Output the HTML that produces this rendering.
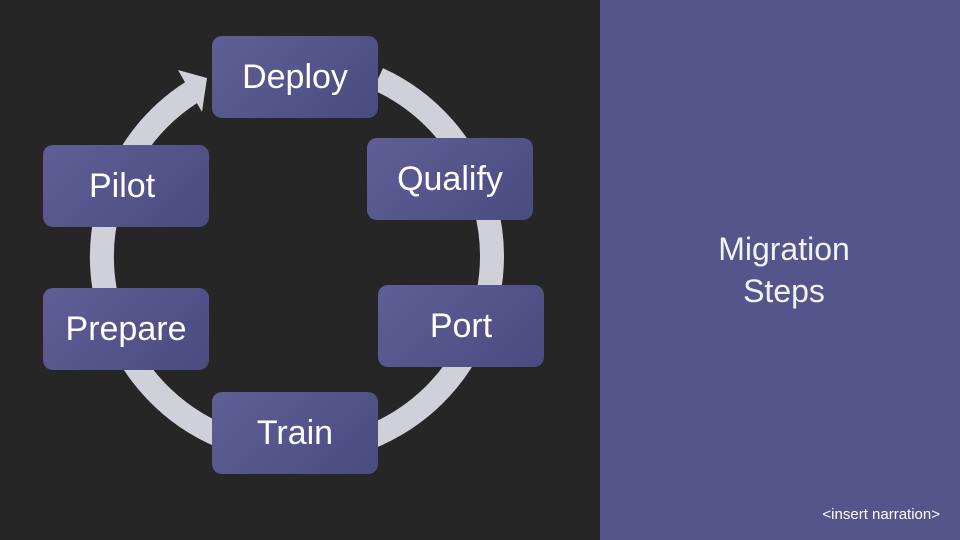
<!DOCTYPE html>
<html><head><style>
body{margin:0;width:960px;height:540px;background:#262626;position:relative;overflow:hidden;font-family:"Liberation Sans",sans-serif}
.p{position:absolute;left:600px;top:0;width:360px;height:540px;background:#54558a}
.b{position:absolute;width:166px;height:82px;border-radius:10px;background:linear-gradient(135deg,#5e5f96,#4a4b80);color:#fff;font-size:34px;display:flex;align-items:center;justify-content:center;box-sizing:border-box}
</style></head><body>
<div class="p"></div>
<svg width="960" height="540" style="position:absolute;left:0;top:0">
<path d="M378,79 A195,195 0 1 1 192,92" fill="none" stroke="#cfd0d8" stroke-width="24"/>
<polygon points="178,70 207,78 202,112" fill="#cfd0d8"/>
</svg>
<div class="b" style="left:212px;top:36px">Deploy</div>
<div class="b" style="left:367px;top:138px">Qualify</div>
<div class="b" style="left:43px;top:145px;justify-content:flex-start;padding-left:46px">Pilot</div>
<div class="b" style="left:43px;top:288px">Prepare</div>
<div class="b" style="left:378px;top:285px">Port</div>
<div class="b" style="left:212px;top:392px">Train</div>
<div style="position:absolute;left:660px;width:248px;top:228px;text-align:center;color:#f2f2f2;font-size:32px;line-height:42px">Migration<br>Steps</div>
<div style="position:absolute;right:20px;top:506px;color:#fff;font-size:15px">&lt;insert narration&gt;</div>
</body></html>
